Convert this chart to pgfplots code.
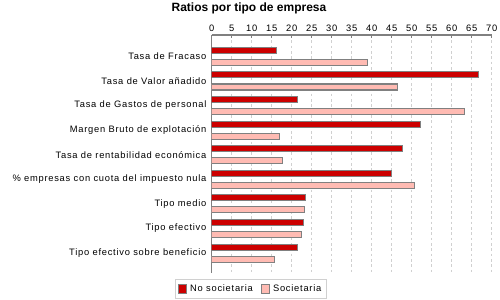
\documentclass[border=0pt]{standalone}
\usepackage{fontspec}
\setmainfont{Liberation Sans}
\newfontfamily\lblfont[LetterSpace=8]{Liberation Sans}
\usepackage{pgfplots}
\pgfplotsset{compat=1.18}
\definecolor{nosoc}{HTML}{CC0000}
\definecolor{soc}{HTML}{FFBBB3}
\definecolor{edge}{HTML}{808080}
\definecolor{gridc}{HTML}{D0D0D0}

\begin{document}
\begin{tikzpicture}
\path[use as bounding box] (0,0) rectangle (375pt,-225pt);
\begin{axis}[
  at={(158.8pt,-26.25pt)}, anchor=north west,
  scale only axis, width=210pt, height=178.5pt,
  xbar, bar width=0.244,
  y dir=reverse,
  xmin=0, xmax=70, ymin=-0.87, ymax=8.81,
  xtick={0,5,...,70},
  ytick={0,...,8},
  yticklabels={Tasa de Fracaso,Tasa de Valor añadido,Tasa de Gastos de personal,Margen Bruto de explotación,Tasa de rentabilidad económica,\% empresas con cuota del impuesto nula,Tipo medio,Tipo efectivo,Tipo efectivo sobre beneficio},
  axis x line*=top, axis y line*=left,
  axis line style={color=edge, line width=0.8pt},
  every outer x axis line/.append style={-},
  every outer y axis line/.append style={-},
  xmajorgrids, grid style={color=gridc, dash pattern=on 2pt off 2pt, line width=0.5pt},
  x tick style={color=edge, line width=0.6pt}, major tick length=2.5pt,
  y tick style={draw=none},
  /pgf/number format/assume math mode=true,
  x tick label style={font=\lblfont\fontsize{7}{8}\selectfont, yshift=-1pt},
  y tick label style={font=\lblfont\fontsize{7}{8}\selectfont, xshift=2pt},
  legend columns=2,
  legend style={at={(axis description cs:0.14,-0.067)}, anchor=center, draw=gridc, font=\lblfont\fontsize{7}{8}\selectfont, inner sep=2pt, /tikz/every even column/.append style={column sep=4pt}},
  legend image code/.code={\draw[#1, draw=edge, line width=0.8pt] (0pt,-3.2pt) rectangle (6.4pt,3.2pt);},
]
\addplot[fill=nosoc, draw=edge, line width=0.8pt, bar shift=-0.245] coordinates {
  (16.25,0) (66.65,1) (21.4,2) (52.15,3) (47.65,4) (44.9,5) (23.4,6) (22.9,7) (21.4,8)
};
\addplot[fill=soc, draw=edge, line width=0.8pt, bar shift=0.245] coordinates {
  (38.9,0) (46.5,1) (63.15,2) (16.9,3) (17.65,4) (50.65,5) (23.15,6) (22.4,7) (15.65,8)
};
\legend{No societaria,Societaria}
\end{axis}
\node[font=\bfseries\fontsize{9}{10}\selectfont, anchor=center] at (186.75pt,-6.4pt) {Ratios por tipo de empresa};
\end{tikzpicture}
\end{document}
